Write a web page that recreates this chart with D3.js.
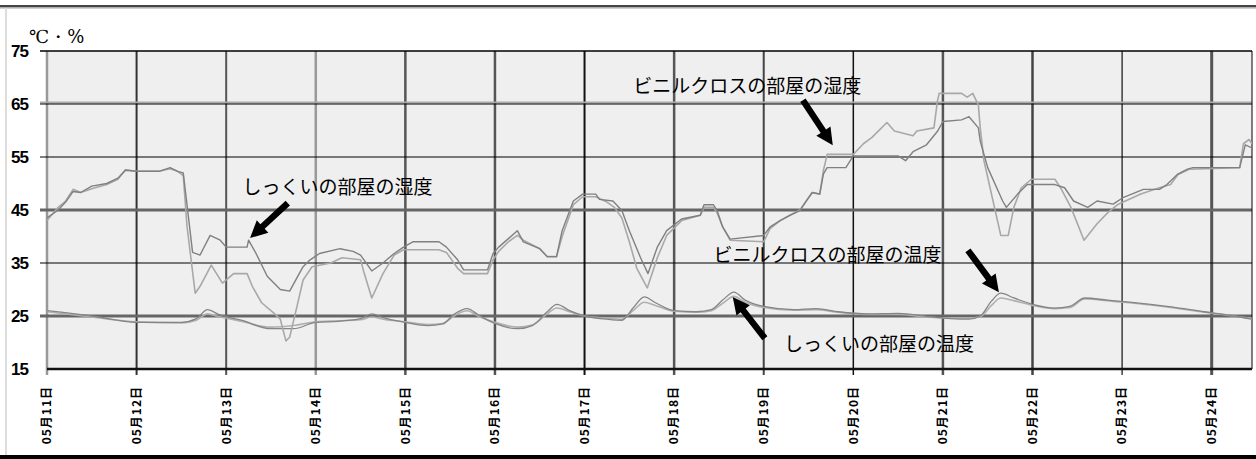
<!DOCTYPE html>
<html>
<head>
<meta charset="utf-8">
<script src="https://cdn.jsdelivr.net/npm/d3@7"></script>
<style>
  body { margin: 0; background: #fff; }
  svg { display: block; }
</style>
</head>
<body>
<div id="chart"></div>
<script>
// [hours since 05/11 00:00, value]
const humShikkui = [[0,43.5],[3,45],[5,46.5],[7,48.5],[9,48.3],[12,49.5],[16,50],[19,51],[21,52.5],[24,52.3],[30,52.3],[33,53],[35,52.3],[36.5,52],[37.5,46],[39,37],[41,36.5],[43.7,40.2],[46.4,39.3],[48,38],[53.6,38],[54,39.3],[56,36.8],[59,32.5],[62.5,30],[65,29.7],[68.6,34.3],[70.5,35.6],[73,36.8],[78.5,37.7],[82,37.2],[84,36.5],[87,33.5],[90,35],[93,36.8],[95.5,38],[98,39],[105,39],[107,38],[110,35.6],[111.6,33.7],[118,33.7],[119.5,36.8],[121,38],[123.6,39.6],[126,41.1],[127.6,39],[132,37.7],[134,36.2],[136.5,36.2],[138,41.1],[141,46.7],[143.5,48],[147,48],[148,47],[151.6,46.7],[154,44.9],[156,41.1],[159,36],[161,33],[163.5,38],[166,41.1],[170,43.3],[175,44],[176,46],[178.5,46],[179.5,44.9],[181,41.8],[183,39.5],[192,40.2],[193.7,41.8],[196.4,43],[199,44],[201.7,44.9],[203.5,46.8],[205,48.3],[207,48],[208,51.8],[209,53],[214,53],[216,55.2],[228,55.2],[230,54.3],[232,56],[235.6,57.3],[238.5,59.8],[240,61.7],[245,62],[247,62.6],[249.5,60.5],[250,58],[252,53],[256,46.7],[257,45.5],[260,48],[262.6,49.8],[270,49.8],[272.6,49.2],[275,46.7],[278.8,45.5],[281.3,46.7],[285.6,46.1],[288.4,47.4],[293.7,48.9],[298,48.9],[300,49.8],[302.8,51.7],[305.5,52.7],[307,53],[319.5,53],[321,57.3],[322.8,56.7]];

const humVinyl = [[0,43],[3,45.5],[5,46.7],[7,48.9],[9,48.3],[12,49],[16,49.8],[19,50.8],[21,52.6],[24,52.3],[30,52.3],[33,52.8],[35,52.3],[36.5,51.5],[37.5,42],[39.7,29.3],[41,30.6],[44,34.6],[47,31.2],[50,33],[53.6,33],[55,30.6],[57.5,27.5],[60.7,25.6],[62.5,24.4],[64,20.3],[65,21],[67,26.9],[68.6,31.8],[71,34.3],[76,35],[79,36],[84,35.6],[85,33],[87,28.4],[90,33],[93,36.5],[95.5,37.5],[98,37.5],[105,37.5],[107,37],[110,34],[111.6,33],[118,33],[119.5,35.6],[121,37.2],[123.6,39],[126,40.2],[127.6,39.3],[132,37.7],[134,36.2],[136.5,36.2],[138,40],[141,46],[143.5,47.5],[147,47.5],[150,46.5],[152,45.5],[154,43.5],[156,39],[158,34],[160.8,30.3],[163.5,36],[166,40.2],[170,43],[175,44],[176,45.5],[178.5,45.5],[179.5,44.5],[181,41.8],[183,39.3],[192,39],[193.7,41.5],[196.4,43],[199,44],[201.7,45],[203.5,46.8],[205,48.3],[207,48],[208,52.5],[209,55.5],[216,55.5],[218.7,57.5],[221,58.7],[225,61.5],[227,59.9],[232,59],[233,59.9],[237.6,60.5],[238.5,65.4],[239,67],[245,67],[246.5,66.3],[248,67],[249.5,64.8],[250,60.5],[251,54.3],[255.5,40.2],[257.5,40.2],[259,45.5],[261,49.2],[263.7,50.8],[270,50.8],[271.5,49.2],[274.3,45.5],[277.8,39.3],[281.3,42.4],[284.3,44.6],[287,46.1],[293,48],[298,49.2],[301,49.8],[303,51.7],[306,52.7],[319.5,53],[320.5,57.5],[322,58.3],[322.8,57.5]];

const tempShikkui = [[0,26],[12,25],[24,23.8],[36,23.8],[40,24.5],[43,26.2],[46,25.3],[52,24.2],[60,22.6],[66,22.6],[72,23.8],[78,24],[84,24.5],[87,25.4],[90,24.7],[96,23.8],[102,23.2],[106,23.5],[109,25.3],[112.5,26.4],[116,25],[120,23.6],[126,22.6],[130,23.2],[134,25.8],[136.6,27.2],[140,26],[144,25],[150,24.4],[154,24.2],[157,26.5],[160,28.6],[163,27.5],[168,26],[174,25.8],[178,26.2],[181,28],[184,29.5],[187,28],[192,26.8],[200,26.2],[206,26.4],[212,25.8],[220,25.4],[228,25.5],[236,24.9],[242,24.5],[247,24.4],[250,25],[253,27.8],[255.5,29.3],[259,28.4],[264,27.2],[270,26.5],[274,26.8],[278,28.4],[284,28],[290,27.6],[300,26.8],[310,25.8],[318,25],[322.8,24.4]];

const tempVinyl = [[0,25.8],[12,24.8],[24,23.9],[36,23.7],[40,24.2],[43,25.4],[46,24.9],[52,24],[60,22.9],[66,23.2],[72,23.9],[78,24.1],[84,24.3],[87,24.8],[90,24.4],[96,23.9],[102,23.4],[106,23.6],[109,25],[112.5,26],[116,24.8],[120,23.8],[126,22.9],[130,23.3],[134,25.4],[136.6,26.5],[140,25.8],[144,25],[150,24.6],[154,24.4],[157,26],[160,27.6],[163,27],[168,25.9],[174,25.7],[178,26],[181,27.4],[184,28.7],[187,27.6],[192,26.6],[200,26.1],[206,26.2],[212,25.7],[220,25.3],[228,25.3],[236,24.8],[242,24.6],[247,24.6],[250,24.9],[253,27],[255.5,28.4],[259,27.9],[264,27],[270,26.4],[274,26.6],[278,28.2],[284,27.9],[290,27.5],[300,26.7],[310,25.7],[318,25],[322.8,24.5]];

const yTicks = [15, 25, 35, 45, 55, 65, 75];
const yLabel = '℃・%';

// notes: text centre and arrow [from, tip], in [hours, value]
const notes = [
  { text: 'しっくいの部屋の湿度', at: [77.8, 49.4], from: [64.5, 46.3], to: [54.4, 39.7] },
  { text: 'ビニルクロスの部屋の湿度', at: [187.6, 68.4], from: [202.5, 65.7], to: [210.5, 57.2] },
  { text: 'ビニルクロスの部屋の温度', at: [209.1, 36.5], from: [246.7, 37.4], to: [255.0, 29.5] },
  { text: 'しっくいの部屋の温度', at: [222.9, 19.7], from: [192.3, 20.8], to: [183.7, 28.6] }
];

const W = 1256, H = 459;
const margin = { left: 47, right: 4, top: 51, bottom: 90 };
const start = new Date(2000, 4, 11);
const hourToDate = h => new Date(start.getTime() + h * 3600 * 1000);

const svg = d3.select('#chart').append('svg')
  .attr('width', W)
  .attr('height', H);

// outer frame
svg.append('rect').attr('x', 0).attr('y', 5).attr('width', W).attr('height', 2.5).attr('fill', '#444');
svg.append('rect').attr('x', 0).attr('y', 7.5).attr('width', W).attr('height', 1.2).attr('fill', '#bbb');
svg.append('rect').attr('x', 5).attr('y', 8).attr('width', 2).attr('height', 448).attr('fill', '#ddd');
svg.append('rect').attr('x', 0).attr('y', 455).attr('width', W).attr('height', 4).attr('fill', '#000');

const x = d3.scaleTime()
  .domain([start, hourToDate(322.8)])
  .range([margin.left, W - margin.right]);

const y = d3.scaleLinear()
  .domain([15, 75])
  .range([369, margin.top]);

const x0 = x.range()[0], x1 = x.range()[1];

svg.append('rect')
  .attr('x', x0).attr('y', y(75))
  .attr('width', x1 - x0).attr('height', y(15) - y(75))
  .attr('fill', '#efefef');

// vertical grid
const days = d3.timeDay.range(start, hourToDate(323));
const dayColor = ['#999', '#333', '#555', '#999', '#555', '#555', '#111', '#555', '#444', '#111', '#555', '#444', '#111', '#555'];
const dayWidth = [2.5, 2, 2, 2.5, 2.5, 2.5, 2, 2.5, 2, 1.5, 2.5, 2.5, 1.2, 3];
svg.append('g').selectAll('line')
  .data(days)
  .join('line')
  .attr('x1', d => x(d)).attr('x2', d => x(d))
  .attr('y1', y(75)).attr('y2', y(15) + 6)
  .attr('stroke', (d, i) => dayColor[i])
  .attr('stroke-width', (d, i) => dayWidth[i]);

// horizontal grid
const hColor = { 25: '#666', 35: '#000', 45: '#666', 55: '#000', 65: '#000', 75: '#000' };
const hWidth = { 25: 3, 35: 1.2, 45: 3, 55: 1.2, 65: 1.2, 75: 1.5 };
svg.append('line')
  .attr('x1', x0 - 7).attr('x2', x1).attr('y1', y(65) - 1.5).attr('y2', y(65) - 1.5)
  .attr('stroke', '#aaa').attr('stroke-width', 2);
svg.append('g').selectAll('line')
  .data(yTicks.filter(d => d > 15))
  .join('line')
  .attr('x1', x0 - 7).attr('x2', x1)
  .attr('y1', d => y(d)).attr('y2', d => y(d))
  .attr('stroke', d => hColor[d])
  .attr('stroke-width', d => hWidth[d]);

// right border
svg.append('line')
  .attr('x1', x1).attr('x2', x1).attr('y1', y(75)).attr('y2', y(15))
  .attr('stroke', '#000').attr('stroke-width', 1);

// series
svg.append('clipPath').attr('id', 'plot')
  .append('rect').attr('x', x0).attr('y', y(75)).attr('width', x1 - x0).attr('height', y(15) - y(75));

const humLine = d3.line()
  .x(d => x(hourToDate(d[0])))
  .y(d => y(d[1]));
const tempLine = d3.line()
  .x(d => x(hourToDate(d[0])))
  .y(d => y(d[1]))
  .curve(d3.curveMonotoneX);

const series = [
  { data: tempVinyl, gen: tempLine, color: '#b0b0b0', w: 1.6 },
  { data: tempShikkui, gen: tempLine, color: '#858585', w: 1.3 },
  { data: humVinyl, gen: humLine, color: '#a8a8a8', w: 1.6 },
  { data: humShikkui, gen: humLine, color: '#808080', w: 1.4 }
];
svg.append('g').attr('clip-path', 'url(#plot)')
  .selectAll('path')
  .data(series)
  .join('path')
  .attr('d', d => d.gen(d.data))
  .attr('fill', 'none')
  .attr('stroke', d => d.color)
  .attr('stroke-width', d => d.w)
  .attr('stroke-linejoin', 'round');

// bottom axis line
svg.append('line')
  .attr('x1', x0).attr('x2', x1).attr('y1', y(15)).attr('y2', y(15))
  .attr('stroke', '#111').attr('stroke-width', 2.5);

// y tick labels
svg.append('g').selectAll('text')
  .data(yTicks)
  .join('text')
  .attr('x', 28)
  .attr('y', d => y(d))
  .attr('dy', '0.36em')
  .attr('text-anchor', 'end')
  .attr('font-family', 'Liberation Sans, Arial, sans-serif')
  .attr('font-weight', 'bold')
  .attr('font-size', 17)
  .attr('letter-spacing', -1)
  .text(d => d);

svg.append('text')
  .attr('x', 29).attr('y', 43)
  .attr('font-family', 'DejaVu Serif, Liberation Serif, serif')
  .attr('font-size', 18)
  .text(yLabel);

// x tick labels
const fmt = d3.timeFormat('%m月%d日');
svg.append('g').selectAll('text')
  .data(days)
  .join('text')
  .attr('transform', d => `translate(${x(d)},386) rotate(-90)`)
  .attr('dy', '0.36em')
  .attr('text-anchor', 'end')
  .attr('font-family', 'Noto Sans CJK JP, sans-serif')
  .attr('font-weight', 'bold')
  .attr('font-size', 12)
  .attr('letter-spacing', 1)
  .text(d => fmt(d));

// annotations
function arrowPath(p, q) {
  const dx = q[0] - p[0], dy = q[1] - p[1];
  const len = Math.hypot(dx, dy);
  const ux = dx / len, uy = dy / len, nx = -uy, ny = ux;
  const head = 17, hw = 8.5, sw = 3.2;
  const bx = q[0] - ux * head, by = q[1] - uy * head;
  const pts = [
    [p[0] + nx * sw, p[1] + ny * sw],
    [bx + nx * sw, by + ny * sw],
    [bx + nx * hw, by + ny * hw],
    q,
    [bx - nx * hw, by - ny * hw],
    [bx - nx * sw, by - ny * sw],
    [p[0] - nx * sw, p[1] - ny * sw]
  ];
  return 'M' + pts.map(d => d.join(',')).join('L') + 'Z';
}
const pt = d => [x(hourToDate(d[0])), y(d[1])];

const ann = svg.append('g');
ann.selectAll('path')
  .data(notes)
  .join('path')
  .attr('d', d => arrowPath(pt(d.from), pt(d.to)))
  .attr('fill', '#000');
ann.selectAll('text')
  .data(notes)
  .join('text')
  .attr('x', d => pt(d.at)[0])
  .attr('y', d => pt(d.at)[1])
  .attr('dy', '0.38em')
  .attr('text-anchor', 'middle')
  .attr('font-family', 'Noto Sans CJK JP, sans-serif')
  .attr('font-size', 19)
  .attr('fill', '#000')
  .text(d => d.text);
</script>
</body>
</html>
